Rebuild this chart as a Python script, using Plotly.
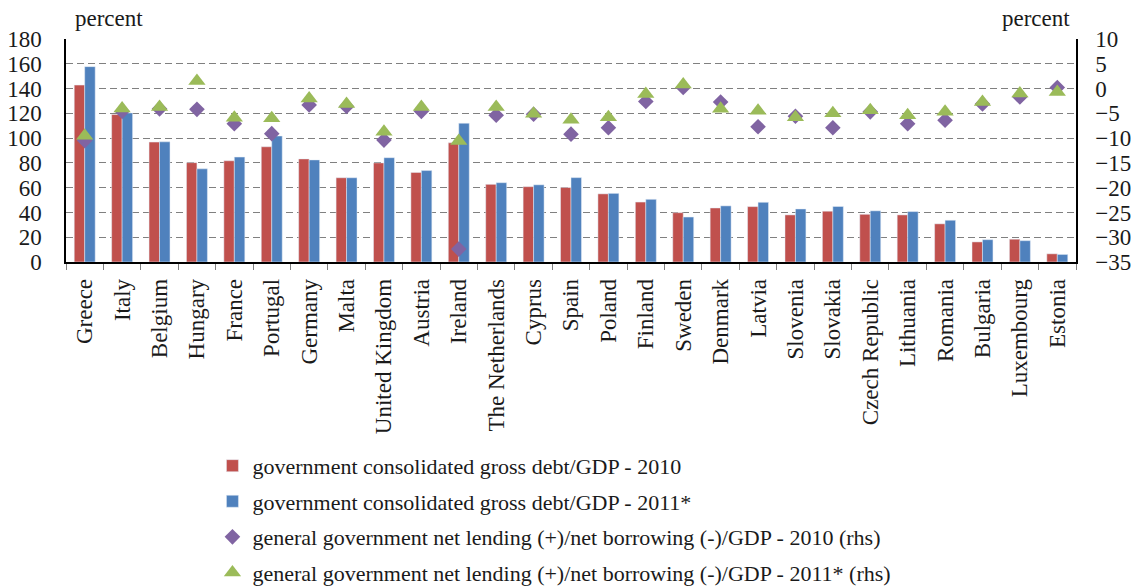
import plotly.graph_objects as go

countries = ["Greece", "Italy", "Belgium", "Hungary", "France", "Portugal", "Germany", "Malta",
             "United Kingdom", "Austria", "Ireland", "The Netherlands", "Cyprus", "Spain", "Poland",
             "Finland", "Sweden", "Denmark", "Latvia", "Slovenia", "Slovakia", "Czech Republic",
             "Lithuania", "Romania", "Bulgaria", "Luxembourg", "Estonia"]

debt_2010 = [142.8, 119.0, 96.8, 80.2, 81.7, 93.0, 83.2, 68.0, 80.0, 72.3, 96.2, 62.7, 60.8, 60.1,
             55.0, 48.4, 39.8, 43.6, 44.7, 38.0, 41.0, 38.5, 38.0, 30.8, 16.2, 18.4, 6.6]
debt_2011 = [157.7, 120.3, 97.0, 75.2, 84.7, 101.7, 82.4, 68.0, 84.2, 73.8, 112.0, 64.0, 62.3, 68.1,
             55.4, 50.6, 36.3, 45.3, 48.2, 42.8, 44.8, 41.3, 40.7, 33.7, 18.0, 17.2, 6.1]
net_2010 = [-10.5, -4.6, -4.1, -4.2, -7.1, -9.1, -3.3, -3.6, -10.4, -4.6, -32.4, -5.4, -5.2, -9.2,
            -7.9, -2.6, 0.2, -2.7, -7.7, -5.6, -7.9, -4.7, -7.1, -6.4, -3.1, -1.7, 0.2]
net_2011 = [-9.5, -4.0, -3.7, 1.5, -5.9, -6.0, -2.0, -3.1, -8.7, -3.7, -10.6, -3.7, -5.1, -6.3,
            -5.8, -1.1, 0.8, -4.1, -4.5, -5.8, -5.0, -4.4, -5.4, -4.7, -2.7, -1.0, -0.7]

names = ["government consolidated gross debt/GDP - 2010",
         "government consolidated gross debt/GDP - 2011*",
         "general government net lending (+)/net borrowing (-)/GDP - 2010 (rhs)",
         "general government net lending (+)/net borrowing (-)/GDP - 2011* (rhs)"]

FONT = "Liberation Serif, Times New Roman, serif"

fig = go.Figure()
fig.add_trace(go.Bar(x=countries, y=debt_2010, name=names[0], marker_color="#C0504D",
                     legendgroup="a"))
fig.add_trace(go.Bar(x=countries, y=debt_2011, name=names[1], marker_color="#4F81BD",
                     legendgroup="b"))
fig.add_trace(go.Scatter(x=countries, y=net_2010, name=names[2], mode="markers", yaxis="y2",
                         marker=dict(symbol="diamond", size=12, color="#8064A2"),
                         legendgroup="c"))
fig.add_trace(go.Scatter(x=countries, y=net_2011, name=names[3], mode="markers", yaxis="y2",
                         marker=dict(symbol="triangle-up", size=15, color="#9BBB59"),
                         legendgroup="d"))

fig.update_layout(
    width=1132, height=587,
    margin=dict(l=66, r=56, t=39, b=325, autoexpand=False),
    paper_bgcolor="white", plot_bgcolor="white",
    font=dict(family=FONT, size=23, color="#1a1a1a"),
    barmode="group", bargap=0.44, bargroupgap=0.0,
    xaxis=dict(type="category", range=[-0.5, len(countries) - 0.5], tickson="boundaries",
               ticks="outside", ticklen=6,
               tickcolor="#808080", showline=True, linecolor="black", linewidth=1.5,
               tickangle=-90, showgrid=False, ticklabelstandoff=6, automargin=False),
    yaxis=dict(range=[0, 180], dtick=20, showgrid=True, gridcolor="#808080", griddash="7px,4px",
               gridwidth=1, showline=True, linecolor="black", linewidth=1.5, ticks="",
               ticklabelstandoff=18, zeroline=False, automargin=False),
    yaxis2=dict(range=[-35, 10], dtick=5, overlaying="y", side="right", showgrid=False,
                showline=True, linecolor="black", linewidth=1.5, ticks="",
                ticklabelstandoff=13, zeroline=False, automargin=False),
    legend=dict(x=0.145, xanchor="left", y=-0.82, yanchor="top", traceorder="grouped",
                tracegroupgap=4, font=dict(size=22), bgcolor="rgba(0,0,0,0)"),
    annotations=[
        dict(text="percent", xref="paper", yref="paper", x=0.007, y=1.0, yshift=6,
             xanchor="left", yanchor="bottom", showarrow=False, font=dict(size=23)),
        dict(text="percent", xref="paper", yref="paper", x=0.996, y=1.0, yshift=6,
             xanchor="right", yanchor="bottom", showarrow=False, font=dict(size=23)),
    ],
)

fig.write_html("out.html")
